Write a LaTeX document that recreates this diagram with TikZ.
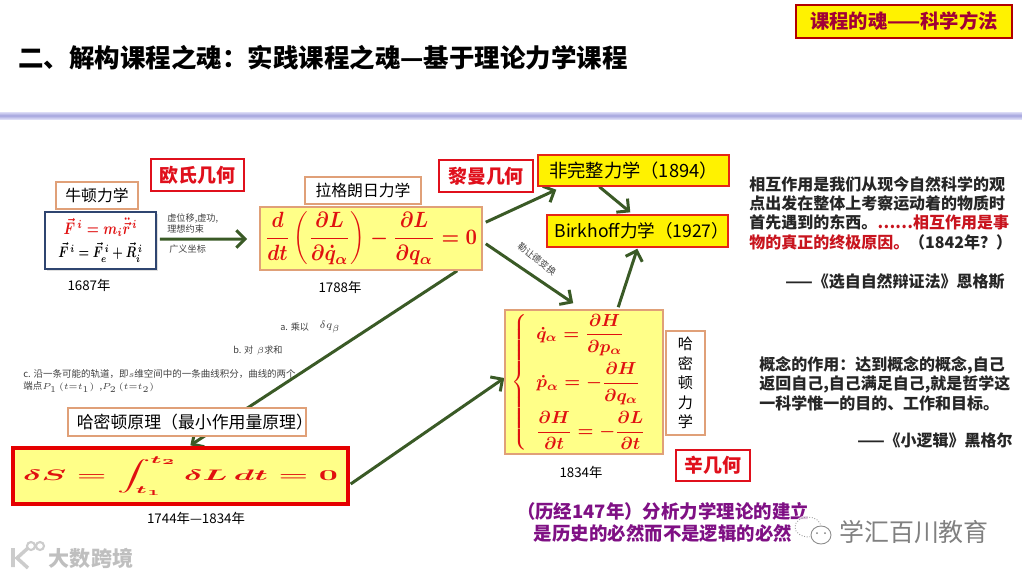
\documentclass[tikz,border=0pt]{standalone}
\usepackage[no-math]{fontspec}
\usepackage{amsmath,amssymb}
\usepackage{graphicx}
\usetikzlibrary{arrows.meta,backgrounds,shadows}
\setmainfont{Noto Sans CJK SC}
\definecolor{boxedge}{HTML}{E0A078}
\definecolor{geored}{HTML}{E0101C}
\definecolor{paleyellow}{HTML}{FFFF88}
\definecolor{flowgreen}{HTML}{3A5A26}
\definecolor{eqred}{HTML}{E01010}
\definecolor{quotered}{HTML}{C8141E}
\definecolor{plum}{HTML}{7F1084}
\definecolor{bandmid}{HTML}{A4A4DE}
\definecolor{bandedge}{HTML}{DCDCF6}
\definecolor{newtonedge}{HTML}{2F4570}
\newcommand{\pxfont}[2]{\fontsize{#1}{#2}\selectfont}
\tikzset{
    boxsize/.style 2 args={minimum width=#1*0.02cm,minimum height=#2*0.02cm,inner sep=0pt},
    labelbox/.style={draw=boxedge,line width=0.7pt,fill=white,font=\pxfont{9}{11}},
    geobox/.style={draw=geored,line width=0.7pt,fill=white,text=geored,font=\pxfont{10.8}{13}\bfseries},
    eqbox/.style={draw=boxedge,line width=0.9pt,fill=paleyellow},
    yearbox/.style={draw=geored!80!orange,line width=0.8pt,fill=yellow,font=\pxfont{10.4}{12}},
    yeartext/.style={font=\pxfont{7.6}{9},inner sep=0pt},
    smalltext/.style={font=\pxfont{5.2}{6.4},text=black!75,inner sep=0pt},
    quotetext/.style={font=\pxfont{9.1}{11}\bfseries,text=black!85,inner sep=0pt,align=left},
    flow/.style={draw=flowgreen,line width=1.7pt,-{Straight Barb[length=5pt,width=10pt]}},
}
\begin{document}
\begin{tikzpicture}[x=0.02cm,y=-0.02cm]
    \useasboundingbox (0,0) rectangle (1022,576);

    \node[inner sep=0pt,anchor=west,font=\pxfont{14.5}{17}\bfseries] (title) at (18,58)
        {二、解构课程之魂：实践课程之魂—基于理论力学课程};
    \node[boxsize={216}{33},draw=red!70!black,line width=1.5pt,fill=yellow,
        text=purple!85!black,font=\pxfont{11}{13}\bfseries] (tag) at (904,21.5)
        {课程的魂——科学方法};

    \node[labelbox,boxsize={82}{27}] (newtonlabel) at (97,195.5) {牛顿力学};
    \node[boxsize={111}{57},draw=newtonedge,line width=0.9pt,fill=white,
        drop shadow={opacity=0.25,shadow xshift=1pt,shadow yshift=-1pt}] (newton) at (100.5,240.5)
        {\resizebox*{1.92cm}{0.9cm}{\boldmath$\begin{array}{c}
            \color{eqred}\scalebox{1.15}[1.1]{$\vec{F}^{\,i}=m_i\ddot{\vec{r}}^{\,i}$}\\[2pt]
            \vec{F}^{\,i}=\vec{F}_e^{\,i}+\vec{R}_i^{\,i}
        \end{array}$}};
    \node[yeartext] (newtonyear) at (89,285) {1687年};
    \node[geobox,boxsize={93}{32}] (euclid) at (197.5,175) {欧氏几何};

    \node[smalltext,anchor=west] (virtual) at (167,218) {虚位移,虚功,};
    \node[smalltext,anchor=west] (ideal) at (167,229) {理想约束};
    \node[smalltext,anchor=west] (general) at (169,249) {广义坐标};

    \node[labelbox,boxsize={116}{27}] (lagrlabel) at (363,190.5) {拉格朗日力学};
    \node[eqbox,boxsize={222}{63}] (lagr) at (371,238.5)
        {\color{eqred}\resizebox*{4.24cm}{1.06cm}{\boldmath$\displaystyle
            \frac{d}{dt}\left(\frac{\partial L}{\partial\dot{q}_\alpha}\right)
            -\frac{\partial L}{\partial q_\alpha}=0$}};
    \node[yeartext] (lagryear) at (340,287) {1788年};
    \node[geobox,boxsize={94}{32}] (riemann) at (486,176) {黎曼几何};

    \node[yearbox,boxsize={191}{31}] (nonhol) at (633.5,170.5) {非完整力学（1894）};
    \node[yearbox,boxsize={181}{32},font=\pxfont{10}{12}] (birk) at (637.5,231)
        {\makebox[0pt]{\hspace*{5pt}Birkhoff力学（1927）}};
    \node[smalltext,rotate=-38] (legendre) at (537,259) {勒让德变换};

    \node[eqbox,boxsize={158}{144}] (ham) at (584,382)
        {\color{eqred}\resizebox*{2.9cm}{2.72cm}{\boldmath$\displaystyle\left\{\begin{array}{l}
            \dot{q}_\alpha=\dfrac{\partial H}{\partial p_\alpha}\\[10pt]
            \dot{p}_\alpha=-\dfrac{\partial H}{\partial q_\alpha}\\[10pt]
            \dfrac{\partial H}{\partial t}=-\dfrac{\partial L}{\partial t}
        \end{array}\right.$}};
    \node[labelbox,boxsize={39}{104},align=center,font=\pxfont{8.6}{11.1}] (hamlabel) at (685.5,383)
        {哈\\密\\顿\\力\\学};
    \node[geobox,boxsize={74}{31}] (symp) at (713,465.5) {辛几何};
    \node[yeartext] (hamyear) at (581,472) {1834年};

    \node[smalltext,anchor=west] (stepa) at (280,327) {a. 乘以};
    \node[smalltext,font=\pxfont{6.4}{8}] (deltaq) at (330,327) {$\delta q_\beta$};
    \node[smalltext,anchor=west] (stepb) at (233,351) {b. 对 \,$\beta$求和};
    \node[smalltext,anchor=west,align=left,font=\pxfont{5.4}{6.6}] (stepc) at (23,381)
        {c. 沿一条可能的轨道，即$s$维空间中的一条曲线积分，曲线的两个\\
        端点$P_1\left(t{=}t_1\right)$\;\;,$P_2\left(t{=}t_2\right)$};

    \node[labelbox,boxsize={238}{28},font=\pxfont{9.6}{11}] (hamprin) at (187,422)
        {\makebox[0pt]{\hspace*{9pt}哈密顿原理（最小作用量原理）}};
    \node[boxsize={335}{56},draw=red!90!black,line width=1.9pt,fill=paleyellow] (action) at (180.5,476)
        {\color{eqred}\resizebox*{6.3cm}{0.78cm}{\boldmath$\displaystyle
            \delta S=\int_{t_1}^{t_2}\delta L\,dt=0$}};
    \node[yeartext] (actionyear) at (196,518) {1744年—1834年};

    \node[quotetext,anchor=west] (engels) at (749,213)
        {相互作用是我们从现今自然科学的观\\
        点出发在整体上考察运动着的物质时\\
        首先遇到的东西。\textcolor{quotered}{……相互作用是事}\\
        \textcolor{quotered}{物的真正的终极原因。}（1842年？）};
    \node[quotetext,anchor=east] (engelsname) at (1005,282) {——《选自自然辩证法》恩格斯};
    \node[quotetext,anchor=west] (hegel) at (759,383.5)
        {概念的作用：达到概念的概念,自己\\
        返回自己,自己满足自己,就是哲学这\\
        一科学惟一的目的、工作和目标。};
    \node[quotetext,anchor=east] (hegelname) at (1013,440) {——《小逻辑》黑格尔};

    \node[inner sep=0pt,text=plum,align=center,font=\pxfont{10.5}{12.5}\bfseries] (history) at (663,522)
        {（历经147年）分析力学理论的建立\\是历史的必然而不是逻辑的必然};

    \begin{scope}[on background layer]
        \shade[top color=bandedge,bottom color=bandedge,middle color=bandmid] (0,112) rectangle (1022,119);
        \draw[flow] ([shift={(3,-1.5)}]newton.east) -- ([shift={(-12,0.5)}]lagr.west);
        \draw[flow] ([shift={(3,16)}]lagr.north east) -- ([shift={(19,3)}]nonhol.south west);
        \draw[flow] ([shift={(3,-27)}]lagr.south east) -- ([shift={(69,-6)}]ham.north west);
        \draw[flow] ([shift={(62,0)}]nonhol.south west) -- ([shift={(84,-2)}]birk.north west);
        \draw[flow] ([shift={(114,-2)}]ham.north west) -- ([shift={(91,1)}]birk.south west);
        \draw[flow] ([shift={(198,0)}]lagr.south west) -- ([shift={(179,-1)}]action.north west);
        \draw[flow] ([shift={(1,8)}]action.east) -- ([shift={(0,-4)}]ham.west);
    \end{scope}

    \fill[white,opacity=0.75] (812,530) ellipse (20 and 16);
    \draw[black!40,line width=0.5pt,densely dotted] (808,527) ellipse (13 and 10);
    \draw[black!45,line width=0.5pt,fill=white] (821,535) ellipse (10 and 9);
    \fill[black!50] (817,533) circle (1) (825,533) circle (1);
    \node[inner sep=0pt,text=black!50,font=\pxfont{14.2}{17}] (wxname) at (914,532) {学汇百川教育};

    \draw[black!20,line width=2pt] (13,548) -- (13,567) (28,548) -- (17,558) -- (28,568);
    \draw[black!20,line width=1.2pt] (31,546) circle (4) (40,546) circle (4);
    \node[inner sep=0pt,text=black!25,font=\pxfont{12}{14}\bfseries] (mark) at (91,558) {大数跨境};
\end{tikzpicture}
\end{document}
